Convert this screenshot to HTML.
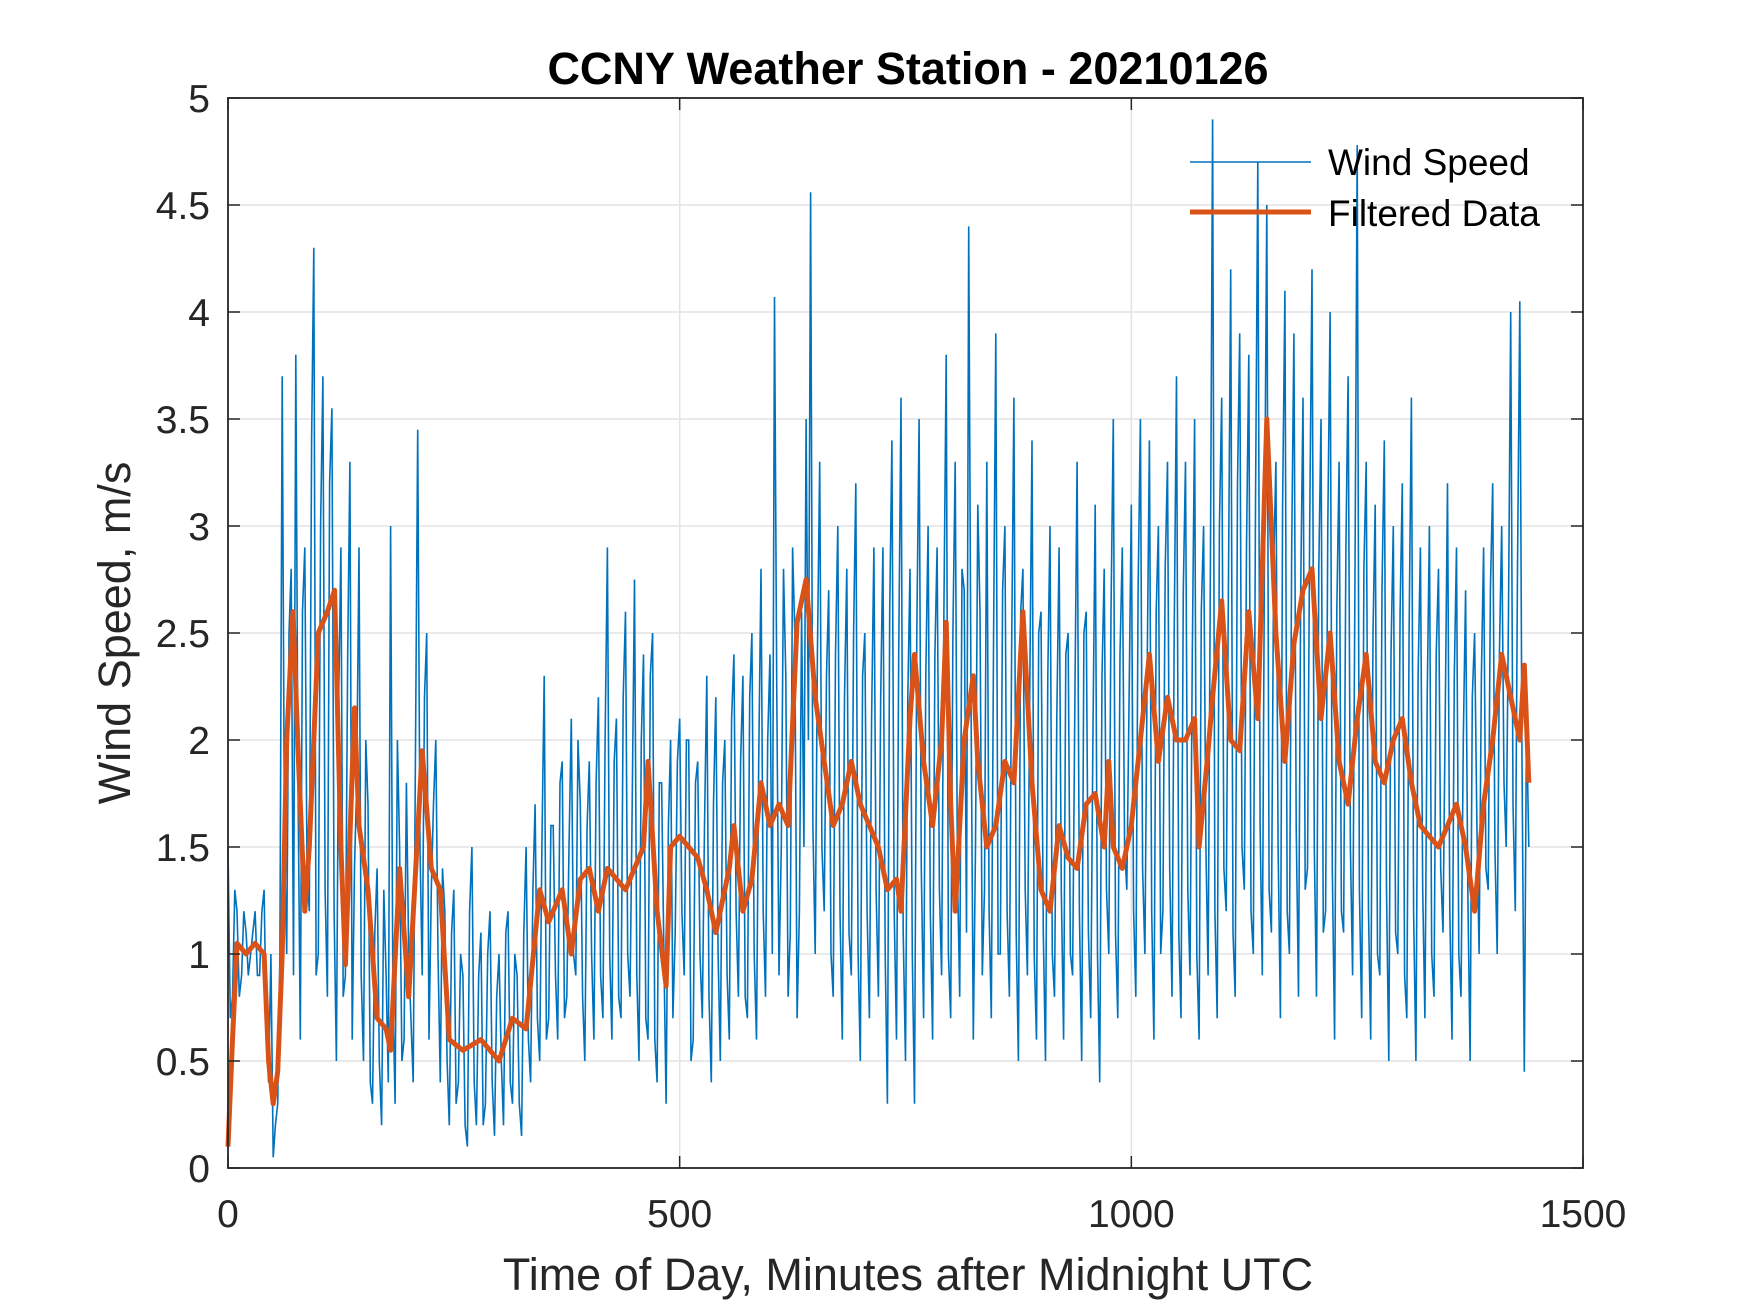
<!DOCTYPE html>
<html><head><meta charset="utf-8"><style>
html,body{margin:0;padding:0;background:#fff;}
svg{display:block;font-family:"Liberation Sans",Arial,sans-serif;}
</style></head><body>
<svg id="chart" width="1750" height="1313" viewBox="0 0 1750 1313" xmlns="http://www.w3.org/2000/svg">
<rect width="1750" height="1313" fill="#fff"/>
<g id="grid"></g>
<g id="series"></g>
<g id="axes"></g>
<text x="908" y="84" text-anchor="middle" font-size="45" font-weight="bold" fill="#000">CCNY Weather Station - 20210126</text>
<text x="908" y="1290" text-anchor="middle" font-size="45" fill="#262626">Time of Day, Minutes after Midnight UTC</text>
<text x="0" y="0" transform="translate(130,633) rotate(-90)" text-anchor="middle" font-size="45" fill="#262626">Wind Speed, m/s</text>
<g>
<line x1="1190" y1="162" x2="1311" y2="162" stroke="#0072BD" stroke-width="1.5"/>
<text x="1328" y="175" font-size="37" fill="#000">Wind Speed</text>
<line x1="1190" y1="212" x2="1311" y2="212" stroke="#D95319" stroke-width="5"/>
<text x="1328" y="226" font-size="37" fill="#000">Filtered Data</text>
</g>
</svg>
<script>
const xTicks=[0,500,1000,1500];
const yTicks=[0,0.5,1,1.5,2,2.5,3,3.5,4,4.5,5];
const yTickLabels=["0","0.5","1","1.5","2","2.5","3","3.5","4","4.5","5"];
const rawStep=5;
const windSpeed=[
1.5,0.8,1.2,0.9,1.1,1.0,1.2,0.9,1.3,0.4,0.05,0.3,
3.7,1.0,2.8,3.8,0.6,2.9,1.2,4.3,1.0,3.7,0.8,3.55,
0.5,2.9,0.9,3.3,1.4,2.9,0.5,1.7,0.3,1.4,0.2,0.9,
3.0,0.3,1.5,0.6,1.0,0.4,3.45,0.9,2.5,1.3,2.0,0.4,
1.2,0.2,1.3,0.4,0.9,0.1,1.5,0.2,1.1,0.3,1.2,0.15,
1.0,0.2,1.2,0.3,0.9,0.15,1.5,0.4,1.7,0.5,2.3,0.7,
1.6,0.6,1.9,0.8,2.1,0.9,1.7,0.5,1.9,0.6,2.2,0.7,
2.9,0.6,2.1,0.7,2.6,0.8,2.75,0.5,2.4,0.6,2.5,0.4,
1.8,0.3,2.0,1.1,2.1,0.9,2.0,0.6,1.9,0.7,2.3,0.4,
2.2,0.5,2.0,0.6,2.4,0.8,2.3,0.7,2.5,0.6,2.8,0.8,
2.4,4.07,0.9,2.8,0.8,2.9,0.7,2.6,3.5,4.56,1.0,3.3,
1.2,2.7,0.8,3.0,0.6,2.8,0.9,3.2,0.5,2.5,0.7,2.9,
0.8,2.9,0.3,3.4,0.6,3.6,0.5,2.8,0.3,3.5,0.7,3.0,
0.6,2.9,0.9,3.8,0.7,3.3,0.8,2.7,4.4,0.6,3.1,0.9,
3.3,0.7,3.9,1.0,3.0,0.8,3.6,0.5,2.8,0.9,3.4,0.6,
2.6,0.5,3.0,0.8,2.9,0.6,2.5,0.9,3.3,0.5,2.6,0.7,
3.1,0.4,2.8,1.0,3.5,0.7,2.9,1.3,3.1,0.8,3.5,1.0,
3.4,0.6,3.0,1.2,3.3,0.8,3.7,0.7,3.3,0.9,3.5,0.6,
3.0,0.9,4.9,0.7,3.6,1.2,4.2,0.8,3.9,1.3,3.8,1.0,
4.7,0.9,4.5,1.1,3.3,0.7,4.1,1.0,3.9,0.8,3.6,1.4,
4.2,0.8,3.5,1.2,4.0,0.6,3.3,1.1,3.7,0.9,4.78,0.7,
3.3,0.6,3.1,0.9,3.4,0.5,3.0,1.0,3.2,0.7,3.6,0.5,
2.9,0.7,3.0,0.8,2.8,1.1,3.2,0.6,2.9,0.8,2.7,0.5,
2.5,1.0,2.9,1.3,3.2,1.0,3.0,1.5,4.0,1.2,4.05,0.45,
1.5];
const windSpeedMid=[
0.7,1.3,0.8,1.2,0.9,1.1,0.9,1.2,0.6,1.0,0.2,1.0,
1.5,2.5,0.9,1.8,2.6,1.4,3.4,0.9,3.0,1.3,3.2,1.2,
2.2,0.8,2.4,0.6,1.8,0.9,2.0,0.4,1.1,0.5,1.3,0.4,
0.8,2.0,0.5,1.8,0.7,1.9,1.5,2.2,0.6,1.7,1.0,1.4,
0.5,1.1,0.3,1.0,0.2,1.2,0.4,0.9,0.2,1.0,0.4,0.8,
0.5,1.1,0.4,1.0,0.3,1.1,0.6,1.3,0.7,1.5,0.6,1.6,
0.9,1.8,0.7,1.5,1.0,2.0,0.8,1.6,1.0,1.8,0.9,2.0,
1.0,1.9,0.8,2.2,1.0,1.7,0.9,2.0,0.7,2.3,0.6,1.8,
1.0,1.6,0.7,1.9,1.2,2.0,0.5,1.8,1.0,1.6,0.8,1.7,
1.0,1.8,0.9,2.1,1.2,1.9,0.8,2.2,1.0,1.9,1.2,2.0,
1.0,2.2,1.5,2.3,1.1,2.5,1.2,1.5,2.0,1.6,2.4,1.5,
2.3,1.0,2.4,1.2,2.2,1.1,2.5,1.0,2.3,1.2,2.1,1.3,
2.2,1.0,2.6,1.2,2.4,1.1,2.2,1.0,2.5,1.4,2.3,1.2,
2.4,1.3,2.6,1.0,2.5,1.4,2.8,1.1,2.2,1.5,2.6,1.3,
1.2,2.5,1.0,2.7,1.2,2.4,1.1,2.6,1.3,2.2,1.0,2.5,
1.1,2.3,1.0,2.1,1.3,2.4,1.0,2.2,1.2,2.5,1.1,2.0,
1.0,2.3,1.3,2.6,1.1,2.4,1.5,2.2,1.2,2.7,1.4,2.3,
1.2,2.6,1.0,2.8,1.4,2.5,1.1,2.7,1.3,2.4,1.0,2.6,
1.5,2.8,1.2,3.0,1.4,2.7,1.1,3.2,1.5,2.9,1.2,3.1,
1.6,3.0,1.3,2.8,1.5,3.1,1.2,2.9,1.6,2.7,1.3,3.0,
1.5,2.8,1.1,3.0,1.4,2.6,1.2,2.9,1.5,2.7,1.3,2.8,
1.2,2.5,1.0,2.7,1.3,2.4,1.1,2.6,0.9,2.5,1.2,2.3,
1.3,2.2,1.0,2.4,1.4,2.1,1.2,2.3,1.0,2.0,1.3,2.2,
1.6,2.3,1.4,2.7,1.5,2.4,1.8,2.6,1.7,2.8,1.9,2.1];
const filtMinutes=[0,5,10,20,30,40,45,50,55,60,65,72,78,85,90,100,110,118,125,130,140,145,155,165,175,180,190,200,215,225,235,245,260,280,300,315,330,345,355,370,380,390,400,410,420,440,460,465,475,485,490,500,510,520,530,540,555,560,570,580,590,600,610,620,630,640,650,660,670,680,690,700,710,720,730,740,745,755,760,770,780,790,795,800,805,815,825,830,840,850,860,870,880,890,900,910,920,930,940,950,960,970,975,980,990,1000,1010,1020,1030,1040,1050,1060,1070,1075,1085,1090,1100,1110,1120,1130,1140,1150,1160,1170,1180,1190,1200,1210,1220,1230,1240,1250,1260,1270,1280,1290,1300,1310,1320,1330,1340,1350,1360,1370,1380,1390,1400,1410,1420,1430,1435,1440];
const filtValues=[0.1,0.6,1.05,1.0,1.05,1.0,0.5,0.3,0.45,1.0,2.0,2.6,1.9,1.2,1.5,2.5,2.6,2.7,1.5,0.95,2.15,1.6,1.3,0.7,0.65,0.55,1.4,0.8,1.95,1.4,1.3,0.6,0.55,0.6,0.5,0.7,0.65,1.3,1.15,1.3,1.0,1.35,1.4,1.2,1.4,1.3,1.5,1.9,1.2,0.85,1.5,1.55,1.5,1.45,1.3,1.1,1.4,1.6,1.2,1.35,1.8,1.6,1.7,1.6,2.55,2.75,2.2,1.9,1.6,1.7,1.9,1.7,1.6,1.5,1.3,1.35,1.2,2.1,2.4,1.9,1.6,2.0,2.55,1.7,1.2,2.0,2.3,1.9,1.5,1.6,1.9,1.8,2.6,1.8,1.3,1.2,1.6,1.45,1.4,1.7,1.75,1.5,1.9,1.5,1.4,1.6,2.0,2.4,1.9,2.2,2.0,2.0,2.1,1.5,1.95,2.2,2.65,2.0,1.95,2.6,2.1,3.5,2.5,1.9,2.45,2.7,2.8,2.1,2.5,1.9,1.7,2.1,2.4,1.9,1.8,2.0,2.1,1.8,1.6,1.55,1.5,1.6,1.7,1.5,1.2,1.7,2.0,2.4,2.2,2.0,2.35,1.8];

const L=228,R=1583,T=98,B=1168;
const xS=v=>L+(v-0)/1500*(R-L);
const yS=v=>B-(v-0)/5*(B-T);
const NS="http://www.w3.org/2000/svg";
function mk(tag,attrs,parent){const e=document.createElementNS(NS,tag);for(const k in attrs)e.setAttribute(k,attrs[k]);parent.appendChild(e);return e;}
const grid=document.getElementById('grid'),axes=document.getElementById('axes'),series=document.getElementById('series');
xTicks.forEach((t,i)=>{
  const x=xS(t);
  if(t>0&&t<1500){const g=mk('line',{x1:x,y1:T,x2:x,y2:B,stroke:'#e3e3e3','stroke-width':1.5},grid);
  
  }
  mk('line',{x1:x,y1:B,x2:x,y2:B-12,stroke:'#262626','stroke-width':1.5},axes);
  mk('line',{x1:x,y1:T,x2:x,y2:T+12,stroke:'#262626','stroke-width':1.5},axes);
  const tx=mk('text',{x:x,y:1227,'text-anchor':'middle','font-size':39,fill:'#262626'},axes);
  tx.textContent=String(t);
  
  
});
yTicks.forEach((t,i)=>{
  const y=yS(t);
  if(t>0&&t<5){const g=mk('line',{x1:L,y1:y,x2:R,y2:y,stroke:'#e3e3e3','stroke-width':1.5},grid);
  
  }
  mk('line',{x1:L,y1:y,x2:L+12,y2:y,stroke:'#262626','stroke-width':1.5},axes);
  mk('line',{x1:R,y1:y,x2:R-12,y2:y,stroke:'#262626','stroke-width':1.5},axes);
  const tx=mk('text',{x:210,y:y+14,'text-anchor':'end','font-size':39,fill:'#262626'},axes);
  tx.textContent=yTickLabels[i];
  
  
});
const box=mk('rect',{x:L,y:T,width:R-L,height:B-T,fill:'none',stroke:'#262626','stroke-width':1.8},axes);


const rawT=[],rawV=[];
windSpeed.forEach((v,i)=>{
  rawT.push(i*rawStep);rawV.push(v);
  if(i<windSpeedMid.length){rawT.push(i*rawStep+rawStep/2);rawV.push(windSpeedMid[i]);}
});
const rawPts=rawV.map((v,i)=>xS(rawT[i]).toFixed(1)+','+yS(v).toFixed(1)).join(' ');
const raw=mk('polyline',{points:rawPts,fill:'none',stroke:'#0072BD','stroke-width':1.6,'stroke-linejoin':'miter'},series);


const fPts=filtValues.map((v,i)=>xS(filtMinutes[i]).toFixed(1)+','+yS(v).toFixed(1)).join(' ');
const filt=mk('polyline',{points:fPts,fill:'none',stroke:'#D95319','stroke-width':5,'stroke-linejoin':'round'},series);


</script>
</body></html>
